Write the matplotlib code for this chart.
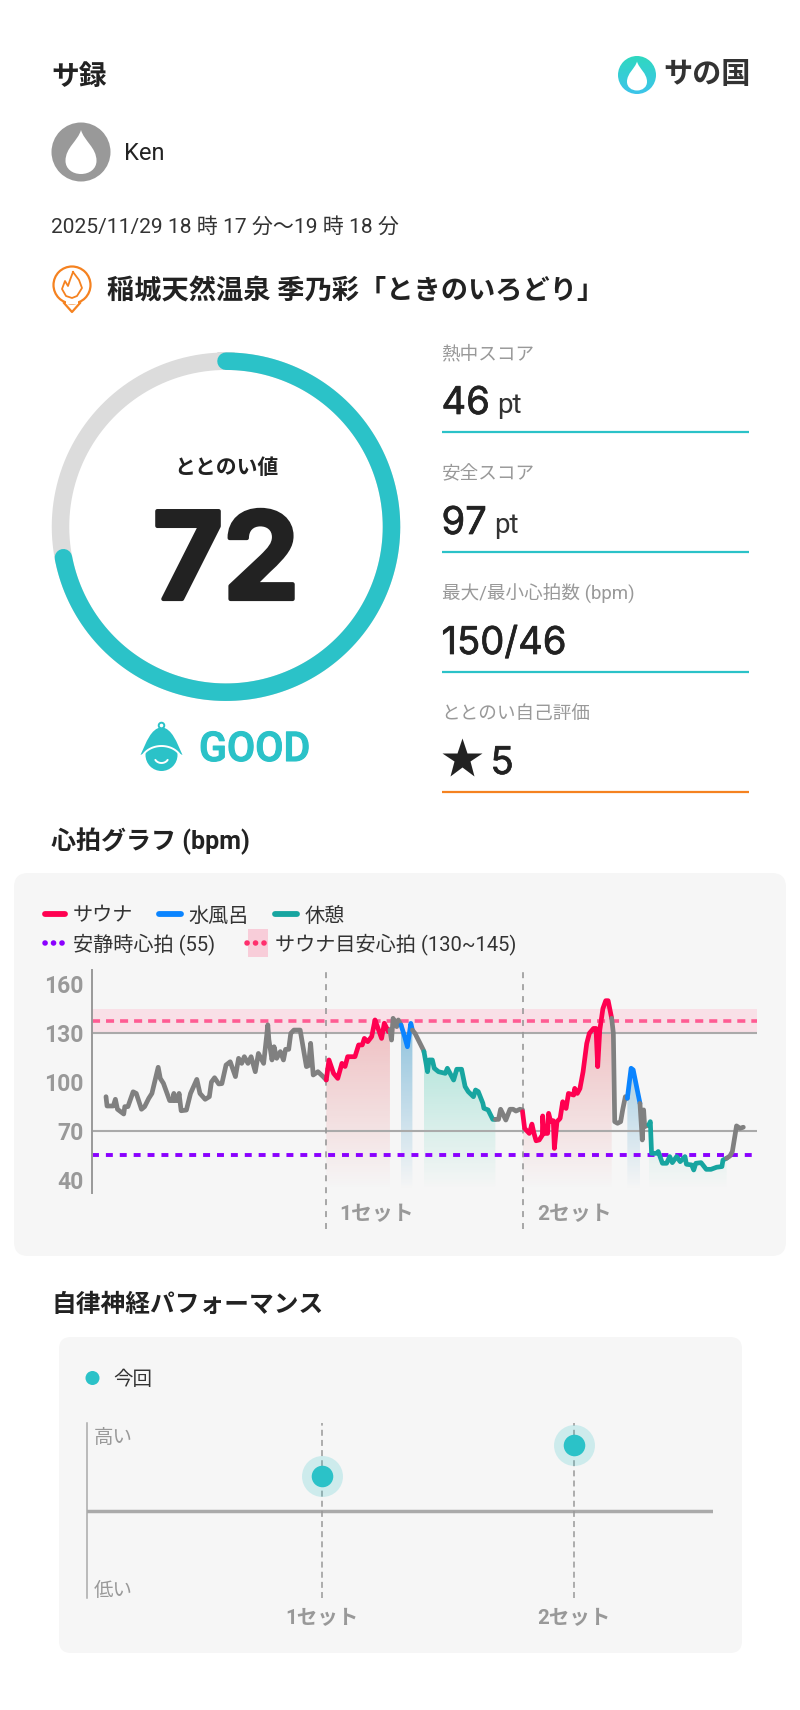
import numpy as np
import matplotlib
matplotlib.use("Agg")
import matplotlib.pyplot as plt
import matplotlib.patheffects as pe
from matplotlib.patches import Circle, FancyBboxPatch, PathPatch, Rectangle
from matplotlib.path import Path

plt.rcParams["font.family"] = ["Roboto", "Noto Sans CJK JP", "DejaVu Sans"]
plt.rcParams["lines.scale_dashes"] = False

# Scores
gauge_value = 72
score_labels = ["熱中スコア", "安全スコア", "最大/最小心拍数 (bpm)", "ととのい自己評価"]
score_values = ["46", "97", "150/46", "5"]
score_units = ["pt", "pt", "", ""]

# Heart rate, minutes from start / bpm
gray1_t = [0.0, 0.1, 0.7, 0.9, 1.1, 1.7, 1.8, 2.1, 2.6, 2.9, 3.4, 3.7, 4.1, 4.4, 5.0, 5.2, 5.5, 6.1, 6.4, 6.5, 6.6, 6.9, 7.0, 7.2, 7.7, 8.1, 8.7, 9.0, 9.5, 9.9, 10.1, 10.4, 10.8,
           11.1, 11.5, 11.9, 12.4, 12.7, 13.0, 13.25, 13.6, 13.9, 14.3, 14.6, 15.1, 15.4, 15.5, 15.6, 15.9, 16.1, 16.35, 16.7, 17.0, 17.2, 17.5, 17.7, 18.0, 18.6, 19.2, 19.4, 19.6, 19.85, 20.3, 20.8, 21.1]
gray1_hr = [91, 85.3, 85.3, 89.4, 83.3, 80.4, 84.9, 84.9, 94, 93, 83.3, 84.9, 90, 93, 109, 102.2, 99.2, 88.6, 88.6, 93, 88.6, 88.6, 93, 82.4, 82.8, 93, 101.6, 93, 89.4, 91, 100, 102.6, 98.8,
            99, 110.4, 112.4, 103.3, 114.5, 111.4, 115.5, 111.4, 115.5, 106.3, 117.5, 111.4, 128.8, 135, 126, 113.5, 121.6, 114.5, 118.6, 113.5, 120, 120, 129.8, 131.8, 131.8, 109.4, 110, 123.7, 104.3, 106.3, 103.3, 101.2]
sauna1_t = [21.1, 21.36, 21.8, 22.2, 22.6, 22.9, 23.15, 23.85, 24.2, 24.55, 24.75, 25.07, 25.45, 25.77, 26.0, 26.4, 26.66, 27.05, 27.2]
sauna1_hr = [101.2, 113.5, 105.3, 102.2, 111.4, 109.5, 115.5, 115.5, 122.7, 122.7, 126.7, 124.7, 127.8, 138, 133.9, 126.7, 136, 130.8, 132]
gray2_t = [27.2, 27.35, 27.5, 27.85, 28.0, 28.26]
gray2_hr = [132, 125.7, 139, 133.9, 138, 134.9]
cold1_t = [28.26, 28.6, 28.87, 29.2, 29.35]
cold1_hr = [134.9, 128, 121.6, 135.9, 131.8]
gray3_t = [29.35, 29.6, 30.08, 30.4, 30.46]
gray3_hr = [131.8, 129.8, 123.7, 119.6, 118.6]
rest1_t = [30.46, 30.8, 30.94, 31.26, 31.45, 31.85, 32.5, 32.7, 33.3, 33.6, 34.06, 34.4, 34.7, 35.2, 35.4, 35.66, 36.1, 36.2, 36.6, 37.05, 37.3]
rest1_hr = [118.6, 106.3, 113.5, 113.5, 108.4, 106.3, 105.3, 108.4, 101.2, 107.8, 107.8, 97.2, 94.1, 91, 95.1, 94.1, 87, 83.9, 82.9, 77.1, 77.1]
gray4_t = [37.3, 37.6, 37.8, 38.3, 38.7, 39.0, 39.27, 39.65, 39.9]
gray4_hr = [77.1, 77.1, 83.3, 76.7, 83.3, 83.3, 82.2, 83.3, 82.9]
sauna2_t = [39.9, 40.1, 40.55, 40.8, 41.0, 41.2, 41.5, 41.8, 41.83, 41.96, 42.3, 42.4, 42.6, 42.85, 42.95, 43.2, 43.5, 43.75, 44.07, 44.3, 44.8, 44.9, 45.15, 45.4, 45.7, 46.05, 46.3, 46.7, 46.94, 47.1, 47.3, 47.6, 47.87, 48.1, 48.44]
sauna2_hr = [81.8, 71.6, 68.5, 74.2, 68.5, 64, 64.5, 67.5, 79.2, 68.5, 68.5, 80.8, 75.7, 76.3, 59.3, 75.7, 77.7, 87.9, 83.8, 93, 92, 96.1, 93, 96, 106.3, 123.6, 129.8, 132.8, 132.8, 109.4, 131.8, 145, 149.8, 149.8, 139]
gray5_t = [48.44, 48.6, 48.73, 49.0, 49.3, 49.5, 49.75, 49.94]
gray5_hr = [139, 129.8, 75.7, 74.7, 75.7, 83.2, 91, 90]
cold2_t = [49.94, 50.3, 50.5, 51.15]
cold2_hr = [90, 108.4, 107.4, 86.9]
gray6_t = [51.15, 51.37, 51.5, 51.6, 52.0]
gray6_hr = [86.9, 64.5, 82.9, 72.7, 73.7]
rest2_t = [52.0, 52.14, 52.26, 52.74, 52.9, 53.3, 53.7, 54.0, 54.25, 54.66, 55.0, 55.46, 55.6, 56.1, 56.3, 56.5, 57.0, 57.5, 57.95, 58.5, 59.0, 59.1, 59.45]
rest2_hr = [73.7, 75.7, 56.3, 56.3, 57.4, 50.2, 50.2, 54.3, 50.6, 54.3, 51.2, 54.3, 49.6, 49.2, 46.1, 50.2, 50.6, 46.5, 46.5, 47.8, 48.2, 52.2, 53.3]
gray7_t = [59.45, 59.77, 60.0, 60.4, 60.73, 61.05]
gray7_hr = [53.3, 54.7, 57.4, 73.1, 71.6, 72.3]

set_starts = [21.1, 39.9]
hr_ticks = [40, 70, 100, 130, 160]
target_low, target_high = 130, 145
target_mid = 137.5
resting_hr = 55

# Autonomic performance
perf_sets = [1, 2]
perf_values = [0.39, 0.75]
perf_labels = ["1セット", "2セット"]

TEAL = "#2bc2c8"
RED = "#ff0050"
BLUE = "#0a84ff"
REST = "#17a5a0"
GRAY = "#808080"
DARK = "#222222"
LABEL = "#999999"
ORANGE = "#f58220"
PANEL = "#f6f6f6"


def thick(width, color):
    # fake heavier weights the installed fonts do not have
    return [pe.withStroke(linewidth=width, foreground=color)]


def px_axes(fig, x0, y0, x1, y1):
    # axes placed by pixel box (y from top)
    return fig.add_axes([x0 / 800, 1 - y1 / 1710, (x1 - x0) / 800, (y1 - y0) / 1710])


def drop_path(cx, cy, w, h):
    verts = [(cx, cy - h / 2),
             (cx + 0.1 * w, cy - 0.25 * h), (cx + 0.5 * w, cy - 0.1 * h), (cx + 0.5 * w, cy + 0.2 * h),
             (cx + 0.5 * w, cy + 0.38 * h), (cx + 0.28 * w, cy + 0.5 * h), (cx, cy + 0.5 * h),
             (cx - 0.28 * w, cy + 0.5 * h), (cx - 0.5 * w, cy + 0.38 * h), (cx - 0.5 * w, cy + 0.2 * h),
             (cx - 0.5 * w, cy - 0.1 * h), (cx - 0.1 * w, cy - 0.25 * h), (cx, cy - h / 2)]
    codes = [Path.MOVETO] + [Path.CURVE4] * 12
    return Path(verts, codes)


def draw_header(ov):
    ov.text(51, 77, "サ録", fontsize=20, fontweight="bold", color=DARK, va="center")

    # logo
    grad = np.linspace(0, 1, 64)
    rgb = np.zeros((64, 1, 3))
    rgb[:, 0, 0] = (0x2f + (0x3c - 0x2f) * grad) / 255
    rgb[:, 0, 1] = (0xd8 + (0xc4 - 0xd8) * grad) / 255
    rgb[:, 0, 2] = (0xc0 + (0xea - 0xc0) * grad) / 255
    im = ov.imshow(rgb, extent=[618, 656, 94, 56], aspect="auto", zorder=2)
    im.set_clip_path(Circle((637, 75), 19, transform=ov.transData))
    ov.add_patch(PathPatch(drop_path(637, 76, 20, 29), fc="white", ec="none", zorder=3))
    ov.text(707, 75, "サの国", fontsize=21, fontweight="bold", color="#333333", ha="center", va="center")

    # avatar
    ov.add_patch(Circle((81, 152), 29.5, fc="#999999", ec="none"))
    ov.add_patch(PathPatch(drop_path(81, 152, 31, 44), fc="white", ec="none"))
    ov.text(124, 153, "Ken", fontsize=17, color=DARK, va="center")

    ov.text(51, 227, "2025/11/29 18 時 17 分〜19 時 18 分", fontsize=15.1, color="#333333", va="center")

    # venue pin
    ov.add_patch(Circle((72, 285), 18.5, fc="white", ec=ORANGE, lw=1.6))
    ov.plot([64, 72, 80], [303, 312, 303], color=ORANGE, lw=1.6, solid_joinstyle="round")
    ov.add_patch(Rectangle((66, 301), 12, 3, fc="white", ec="none", zorder=2.5))
    flame = [(73, 272), (79, 280), (82, 288), (77, 296), (72, 298), (66, 296), (62, 289), (65, 281), (68, 286), (70, 280), (73, 272)]
    ov.plot(*zip(*flame), color=ORANGE, lw=1.3, solid_joinstyle="round", zorder=3)
    ov.text(107, 292, "稲城天然温泉 季乃彩「ときのいろどり」", fontsize=19.6, fontweight="bold", color=DARK, va="center")


def draw_gauge(ov):
    cx, cy, r = 226, 526.7, 165.5
    theta = np.linspace(0, 2 * np.pi, 361)
    ov.plot(cx + r * np.sin(theta), cy - r * np.cos(theta), color="#dcdcdc", lw=12.6, zorder=2)
    theta = np.linspace(0, 2 * np.pi * gauge_value / 100, 300)
    ov.plot(cx + r * np.sin(theta), cy - r * np.cos(theta), color=TEAL, lw=12.6, solid_capstyle="round", zorder=3)
    ov.text(cx, 468, "ととのい値", fontsize=15, fontweight="bold", color=DARK, ha="center", va="center")
    ov.text(cx, 555, str(gauge_value), fontsize=87, fontweight="bold", color=DARK, ha="center", va="center_baseline",
            family=["Inter", "Roboto"], path_effects=thick(3, DARK))

    # GOOD badge
    bx = 161.5
    hat = Path([(bx, 727), (bx - 11, 729), (bx - 15, 742), (bx - 21, 755), (bx - 12, 750), (bx + 12, 750), (bx + 21, 755), (bx + 15, 742), (bx + 11, 729), (bx, 727)],
               [Path.MOVETO] + [Path.CURVE4] * 9)
    ov.add_patch(PathPatch(hat, fc=TEAL, ec="none", zorder=3))
    ov.add_patch(Circle((bx, 725.5), 2.8, fc="white", ec=TEAL, lw=1.4, zorder=3))
    ov.add_patch(Circle((bx, 755), 16, fc=TEAL, ec="none", zorder=2.5))
    ang = np.linspace(-2.7, -0.44, 40)
    ov.plot(bx + 21 * np.cos(ang), 763 + 17 * np.sin(ang), color="white", lw=1.4, zorder=4)
    ang = np.linspace(0.5, 2.64, 20)
    ov.plot(bx + 7 * np.cos(ang), 757 + 6 * np.sin(ang), color="white", lw=1.4, solid_capstyle="round", zorder=4)
    ov.text(199, 746, "GOOD", fontsize=29.5, fontweight="medium", color=TEAL, va="center_baseline",
            path_effects=thick(0.8, TEAL))


def draw_scores(ov):
    label_y = [354, 474, 594, 714]
    value_y = [400, 520, 640, 760]
    line_y = [432, 552, 672, 792]
    unit_x = [497, 494, 0, 0]
    for i in range(4):
        ov.text(441.5, label_y[i], score_labels[i], fontsize=13.4, color=LABEL, va="center")
        xval = 441.5 if i < 3 else 490.5
        ov.text(xval, value_y[i], score_values[i], fontsize=27.5, color=DARK, va="center_baseline",
                family=["Inter", "Roboto"], path_effects=thick(0.5, DARK))
        if score_units[i]:
            ov.text(unit_x[i], value_y[i] + 2, score_units[i], fontsize=20, color="#333333", va="center_baseline")
        ov.plot([441.5, 749], [line_y[i]] * 2, color=TEAL if i < 3 else ORANGE, lw=1.6, solid_capstyle="butt")
    ov.plot([461.5], [759], marker="*", ms=30, color=DARK, mec="none")


def draw_legend(ov):
    top = [(43, 67, RED, 73, "サウナ"), (157, 183, BLUE, 188, "水風呂"), (273, 299, REST, 305, "休憩")]
    for x0, x1, col, xt, name in top:
        ov.plot([x0 + 2, x1 - 2], [914, 914], color=col, lw=4.2, solid_capstyle="round")
        ov.text(xt, 916, name, fontsize=14.5, color="#333333", va="center")
    ov.plot([45, 66], [943, 943], color="#8a00ff", lw=4, dashes=(0.1, 6), dash_capstyle="round")
    ov.text(73, 944, "安静時心拍 (55)", fontsize=14.5, color="#333333", va="center")
    ov.add_patch(Rectangle((248, 929), 20, 28, fc="#f8cdd9", ec="none"))
    ov.plot([247, 267], [943, 943], color="#ff2f6d", lw=4, dashes=(0.1, 6), dash_capstyle="round", zorder=3)
    ov.text(275, 944, "サウナ目安心拍 (130~145)", fontsize=14.5, color="#333333", va="center")


def shade(ax, t, hr, color, alpha_top):
    # vertical fade clipped under one segment of the curve
    ymin, ymax = ax.get_ylim()
    poly = ax.fill_between(t, hr, ymin, facecolor="none", edgecolor="none")
    levels = np.linspace(ymax, ymin, 200)
    rgba = np.zeros((200, 1, 4))
    rgba[:, 0, :3] = matplotlib.colors.to_rgb(color)
    rgba[:, 0, 3] = np.clip((levels - 34) / (139 - 34), 0, 1) * alpha_top
    im = ax.imshow(rgba, extent=[t[0], t[-1], ymin, ymax], aspect="auto", zorder=1)
    im.set_clip_path(poly.get_paths()[0], transform=ax.transData)


def draw_hr_chart(fig):
    ax = px_axes(fig, 92, 970, 757, 1193)
    ax.patch.set_alpha(0)
    ax.set_xlim(-1.34, 62.36)
    ax.set_ylim(32, 168.6)
    for side in ["top", "right", "bottom"]:
        ax.spines[side].set_visible(False)
    ax.spines["left"].set_color("#999999")
    ax.spines["left"].set_linewidth(1.4)
    ax.set_xticks([])
    ax.set_yticks(hr_ticks)
    ax.tick_params(axis="y", length=0, pad=6, labelsize=16.5, labelcolor=LABEL)
    for lab in ax.get_yticklabels():
        lab.set_fontweight("bold")

    shade(ax, sauna1_t, sauna1_hr, "#e0464e", 0.32)
    shade(ax, cold1_t, cold1_hr, "#2a8fc4", 0.52)
    shade(ax, rest1_t, rest1_hr, "#20c0a0", 0.38)
    shade(ax, sauna2_t, sauna2_hr, "#e0464e", 0.32)
    shade(ax, cold2_t, cold2_hr, "#2a8fc4", 0.52)
    shade(ax, rest2_t, rest2_hr, "#20c0a0", 0.38)
    ax.set_xlim(-1.34, 62.36)
    ax.set_ylim(32, 168.6)

    ax.axhspan(target_low, target_high, color="#fbd5e0", alpha=0.65, lw=0, zorder=1.5)
    for level in [70, 130]:
        ax.axhline(level, color="#aaaaaa", lw=1.5, zorder=2)
    ax.axhline(target_mid, color="#ff5c93", lw=2.6, dashes=(5.8, 4.3), zorder=2.5)
    ax.plot([-1.34, 62.3], [resting_hr, resting_hr], color="#8a00ff", lw=2.8, dashes=(5, 5), zorder=2.5)
    for start in set_starts:
        ax.plot([start, start], [10, 168.6], color="#999999", lw=1.2, dashes=(4.3, 4.3), clip_on=False, zorder=2.6)

    segments = [(gray1_t, gray1_hr, GRAY), (sauna1_t, sauna1_hr, RED), (gray2_t, gray2_hr, GRAY),
                (cold1_t, cold1_hr, BLUE), (gray3_t, gray3_hr, GRAY), (rest1_t, rest1_hr, REST),
                (gray4_t, gray4_hr, GRAY), (sauna2_t, sauna2_hr, RED), (gray5_t, gray5_hr, GRAY),
                (cold2_t, cold2_hr, BLUE), (gray6_t, gray6_hr, GRAY), (rest2_t, rest2_hr, REST),
                (gray7_t, gray7_hr, GRAY)]
    for t, hr, col in segments:
        ax.plot(t, hr, color=col, lw=3.4, solid_joinstyle="round", solid_capstyle="round", zorder=3)
    return ax


def draw_perf_chart(fig):
    ax = px_axes(fig, 87, 1423, 713, 1598)
    ax.patch.set_alpha(0)
    # sets sit at px 322 and 574
    ax.set_xlim(1 - 235 / 252, 2 + 139 / 252)
    ax.set_ylim(-1, 1)
    for side in ["top", "right", "bottom"]:
        ax.spines[side].set_visible(False)
    ax.spines["left"].set_color("#aaaaaa")
    ax.spines["left"].set_linewidth(1.1)
    ax.set_yticks([])
    ax.set_xticks(perf_sets)
    ax.set_xticklabels(perf_labels, fontsize=14.8, fontweight="bold", color=LABEL)
    ax.tick_params(axis="x", length=0, pad=8)
    ax.axhline(0, color="#aaaaaa", lw=2.5, zorder=1)
    for x in perf_sets:
        ax.axvline(x, color="#999999", lw=1.1, dashes=(4.3, 3), zorder=1.5)
    ax.scatter(perf_sets, perf_values, s=870, color=TEAL, alpha=0.2, lw=0, zorder=2, clip_on=False)
    ax.scatter(perf_sets, perf_values, s=241, color=TEAL, lw=0, zorder=3)
    ax.text(0.095, 0.83, "高い", fontsize=14, color=LABEL, va="center")
    ax.text(0.095, -0.92, "低い", fontsize=14, color=LABEL, va="center")


def main():
    fig = plt.figure(figsize=(8, 17.1), dpi=100, facecolor="white")
    ov = fig.add_axes([0, 0, 1, 1])
    ov.set_xlim(0, 800)
    ov.set_ylim(1710, 0)
    ov.axis("off")

    draw_header(ov)
    draw_gauge(ov)
    draw_scores(ov)
    ov.set_xlim(0, 800)
    ov.set_ylim(1710, 0)

    ov.text(51, 841, "心拍グラフ (bpm)", fontsize=18, fontweight="bold", color=DARK, va="center")
    ov.add_patch(FancyBboxPatch((14, 873), 772, 383, boxstyle="round,pad=0,rounding_size=14", lw=0, fc=PANEL, zorder=0.5))
    draw_legend(ov)
    ov.text(339, 1215, "1セット", fontsize=15, fontweight="bold", color=LABEL, va="center")
    ov.text(537, 1215, "2セット", fontsize=15, fontweight="bold", color=LABEL, va="center")

    ov.text(51, 1305, "自律神経パフォーマンス", fontsize=17.8, fontweight="bold", color=DARK, va="center")
    ov.add_patch(FancyBboxPatch((59, 1337), 683, 316, boxstyle="round,pad=0,rounding_size=12", lw=0, fc=PANEL, zorder=0.5))
    ov.add_patch(Circle((92.5, 1378), 7, fc=TEAL, ec="none"))
    ov.text(113, 1380, "今回", fontsize=14, color="#333333", va="center")

    draw_hr_chart(fig)
    draw_perf_chart(fig)

    fig.savefig("out.png", dpi=100)


if __name__ == "__main__":
    main()
